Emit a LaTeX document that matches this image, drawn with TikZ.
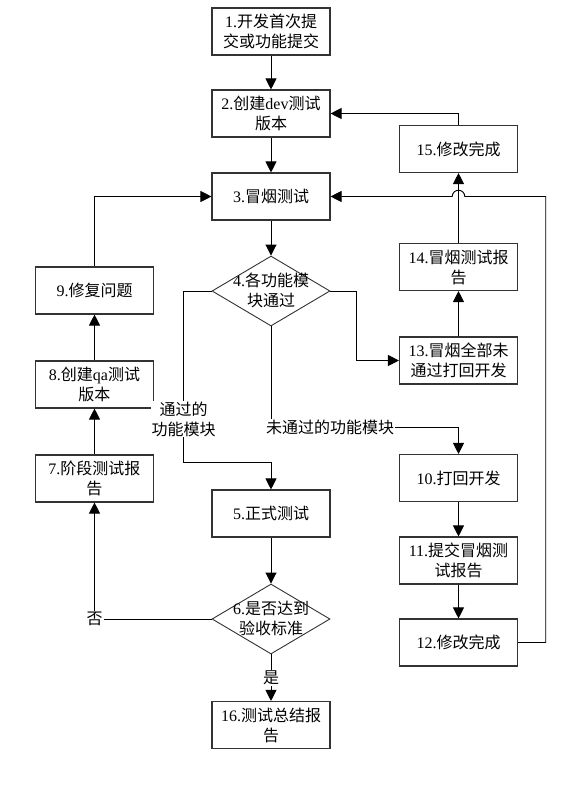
\documentclass[tikz,border=0pt]{standalone}
\usepackage{fontspec}
\setmainfont{Liberation Serif}
\newfontfamily\cjk{Noto Sans CJK SC}
\usetikzlibrary{shapes.geometric,arrows.meta}
\begin{document}
\begin{tikzpicture}[x=1pt,y=-1pt,
  txt/.style={align=center,font=\fontsize{16pt}{20pt}\selectfont},
  box/.style={txt,draw=black!80,line width=1.1pt,minimum width=118pt,minimum height=47pt,inner sep=0pt},
  dec/.style={diamond,draw=black!80,line width=0.9pt,minimum width=118pt,minimum height=70pt,inner sep=0pt},
  arr/.style={line width=0.9pt,-{Triangle[length=11pt,width=11pt]}},
  lbl/.style={txt,fill=white,inner sep=1pt}]
\useasboundingbox (0,0) rectangle (585,807);
\fill[white] (0,0) rectangle (585,807);
% centre column
\node[box] (b1) at (271,31.5) {1.{\cjk 开发首次提}\\{\cjk 交或功能提交}};
\node[box] (b2) at (271,113.5) {2.{\cjk 创建}dev{\cjk 测试}\\{\cjk 版本}};
\node[box] (b3) at (271,196.5) {3.{\cjk 冒烟测试}};
\node[dec] (d4) at (271,291) {};
\node[txt] (t4) at (271,290) {4.{\cjk 各功能模}\\{\cjk 块通过}};
\node[box] (b5) at (271,513.5) {5.{\cjk 正式测试}};
\node[dec] (d6) at (271,619) {};
\node[txt] (t6) at (271,618) {6.{\cjk 是否达到}\\{\cjk 验收标准}};
\node[box] (b16) at (271,725) {16.{\cjk 测试总结报}\\{\cjk 告}};
% left column
\node[box] (b9) at (94.5,290.5) {9.{\cjk 修复问题}};
\node[box] (b8) at (94.5,384.5) {8.{\cjk 创建}qa{\cjk 测试}\\{\cjk 版本}};
\node[box] (b7) at (94.5,478.5) {7.{\cjk 阶段测试报}\\{\cjk 告}};
% right column
\node[box] (b15) at (458.5,149) {15.{\cjk 修改完成}};
\node[box] (b14) at (458.5,267) {14.{\cjk 冒烟测试报}\\{\cjk 告}};
\node[box] (b13) at (458.5,360.5) {13.{\cjk 冒烟全部未}\\{\cjk 通过打回开发}};
\node[box] (b10) at (458.5,478) {10.{\cjk 打回开发}};
\node[box] (b11) at (458.5,560.5) {11.{\cjk 提交冒烟测}\\{\cjk 试报告}};
\node[box] (b12) at (458.5,642.5) {12.{\cjk 修改完成}};
% helper coordinates
\coordinate (lb) at (183.5,462);
\coordinate (rb) at (356.7,291);
\coordinate (db) at (271,427);
\coordinate (rr) at (545.7,642.5);
\coordinate (jr) at (464.8,196.5);
% connectors
\draw[arr] (b1) -- (b2);
\draw[arr] (b2) -- (b3);
\draw[arr] (b3) -- (d4);
\draw[arr] (d4.west) -| (lb) -| (b5.north);
\draw[arr] (d4.east) -- (rb) |- (b13.west);
\draw[arr] (b13) -- (b14);
\draw[arr] (b14) -- (b15);
\draw[arr] (b15.north) |- (b2.east);
\draw[arr] (d4.south) -- (db) -| (b10.north);
\draw[arr] (b10) -- (b11);
\draw[arr] (b11) -- (b12);
\draw[arr] (b12.east) -- (rr) |- (jr) arc[start angle=0,end angle=180,radius=6.3pt] -- (b3.east);
\draw[arr] (b5) -- (d6);
\draw[arr] (d6.south) -- (b16.north);
\draw[arr] (d6.west) -| (b7.south);
\draw[arr] (b7) -- (b8);
\draw[arr] (b8) -- (b9);
\draw[arr] (b9.north) |- (b3.west);
% labels
\node[lbl] (l1) at (183.5,419) {{\cjk 通过的}\\{\cjk 功能模块}};
\node[lbl] (l2) at (330,427) {{\cjk 未通过的功能模块}};
\node[lbl] (l3) at (94.5,619) {{\cjk 否}};
\node[lbl] (l4) at (271,678) {{\cjk 是}};
\end{tikzpicture}
\end{document}
